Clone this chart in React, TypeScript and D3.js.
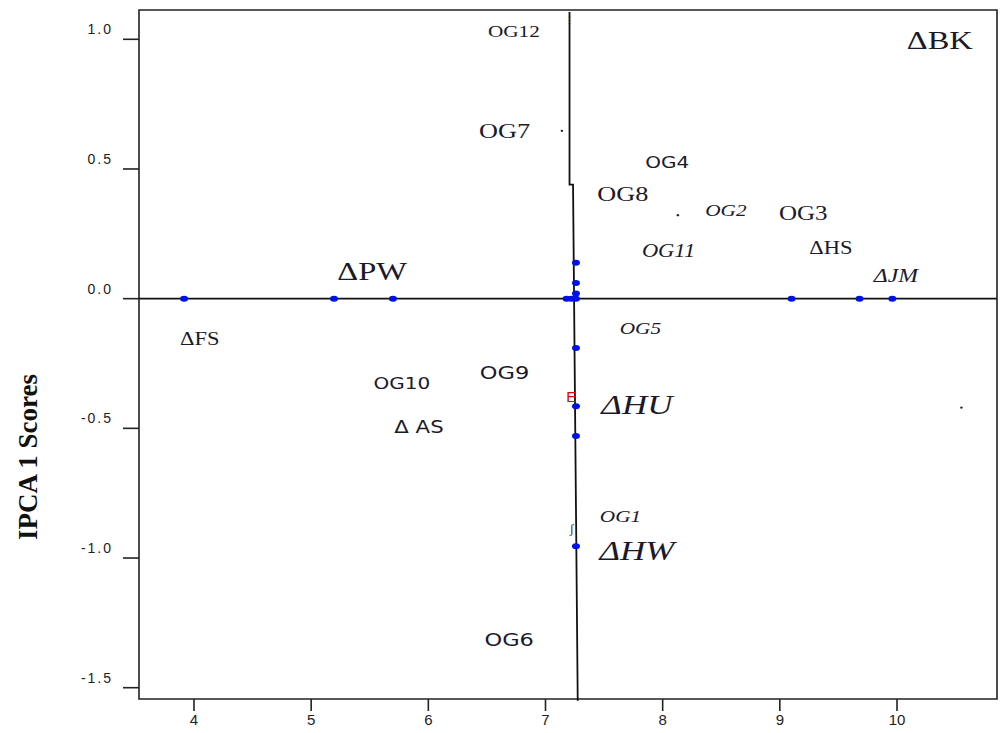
import React from 'react';
import * as d3 from 'd3';

// ---- data ----
const xTicks = [4, 5, 6, 7, 8, 9, 10];
const yTicks = [1.0, 0.5, 0.0, -0.5, -1.0, -1.5];

// environment points lying on the horizontal axis (IPCA 1 = 0)
const pointsOnHorizontal = [3.915, 5.195, 5.698, 7.18, 7.22, 9.1, 9.68, 9.96];
// genotype points lying along the vertical line (mean = 7.26)
const verticalX = 7.26;
const pointsOnVertical = [0.138, 0.06, 0.02, 0.0, -0.19, -0.415, -0.53, -0.955];

// the (slightly broken) vertical reference line
const verticalLine: [number, number][] = [
  [7.205, 1.105],
  [7.205, 0.44],
  [7.235, 0.44],
  [7.275, -1.55],
];

type Lab = { t: string; x: number; y: number; size: number; font: 'serif' | 'sans'; italic?: boolean };
const labels: Lab[] = [
  { t: 'OG12', x: 6.73, y: 1.03, size: 17, font: 'serif' },
  { t: 'OG7', x: 6.65, y: 0.647, size: 21, font: 'serif' },
  { t: 'OG4', x: 8.04, y: 0.524, size: 16, font: 'sans' },
  { t: 'OG8', x: 7.66, y: 0.404, size: 21, font: 'serif' },
  { t: 'OG2', x: 8.54, y: 0.342, size: 17, font: 'serif', italic: true },
  { t: 'OG3', x: 9.2, y: 0.327, size: 20, font: 'serif' },
  { t: 'OG11', x: 8.05, y: 0.184, size: 18, font: 'serif', italic: true },
  { t: '\u0394HS', x: 9.435, y: 0.196, size: 18, font: 'serif' },
  { t: '\u0394JM', x: 9.99, y: 0.088, size: 19, font: 'serif', italic: true },
  { t: '\u0394PW', x: 5.52, y: 0.107, size: 26, font: 'serif' },
  { t: '\u0394BK', x: 10.365, y: 0.995, size: 26, font: 'serif' },
  { t: '\u0394FS', x: 4.05, y: -0.156, size: 18, font: 'serif' },
  { t: 'OG5', x: 7.81, y: -0.113, size: 17, font: 'serif', italic: true },
  { t: 'OG10', x: 5.775, y: -0.325, size: 16, font: 'sans' },
  { t: 'OG9', x: 6.65, y: -0.287, size: 18, font: 'sans' },
  { t: '\u0394HU', x: 7.78, y: -0.41, size: 28, font: 'serif', italic: true },
  { t: '\u0394 AS', x: 5.92, y: -0.495, size: 17, font: 'sans' },
  { t: 'OG1', x: 7.64, y: -0.839, size: 17, font: 'serif', italic: true },
  { t: '\u0394HW', x: 7.78, y: -0.97, size: 28, font: 'serif', italic: true },
  { t: 'OG6', x: 6.69, y: -1.314, size: 18, font: 'sans' },
];

// tiny stray marks
const specks: [number, number][] = [
  [7.14, 0.647],
  [8.13, 0.322],
  [10.55, -0.42],
];

const W = 1000;
const H = 733;
const frame = { left: 139, top: 10, right: 997, bottom: 699 };

export default function App() {
  const x = d3.scaleLinear().domain([4, 10]).range([194, 897]);
  const y = d3.scaleLinear().domain([-1.5, 1.0]).range([687.7, 39.3]);
  const line = d3
    .line<[number, number]>()
    .x((d) => x(d[0]))
    .y((d) => y(d[1]));

  const serif = "'Liberation Serif', 'Times New Roman', serif";
  const sans = "'DejaVu Sans', Verdana, sans-serif";
  const arial = "'Liberation Sans', Arial, sans-serif";
  const stretch = 1.25;

  return (
    <svg
      width={W}
      height={H}
      style={{ position: 'absolute', left: 0, top: 0, background: '#fff' }}
    >
      <rect x={0} y={0} width={W} height={H} fill="#fff" />
      {/* frame */}
      <path
        d={`M${frame.left},${frame.top}H${frame.right}V${frame.bottom}H${frame.left}Z`}
        fill="none"
        stroke="#222"
        strokeWidth={1.6}
      />
      {/* y ticks */}
      {yTicks.map((t) => (
        <g key={'y' + t}>
          <line x1={frame.left - 16} x2={frame.left} y1={y(t)} y2={y(t)} stroke="#222" strokeWidth={1.6} />
          <text
            x={113}
            y={y(t) - 5}
            textAnchor="end"
            fontFamily={arial}
            fontSize={14}
            letterSpacing={2}
            fill="#222"
          >
            {t.toFixed(1)}
          </text>
        </g>
      ))}
      {/* x ticks */}
      {xTicks.map((t) => (
        <g key={'x' + t}>
          <line x1={x(t)} x2={x(t)} y1={frame.bottom} y2={frame.bottom + 12} stroke="#222" strokeWidth={1.6} />
          <text x={x(t)} y={frame.bottom + 26} textAnchor="middle" fontFamily={arial} fontSize={15} fill="#222">
            {t}
          </text>
        </g>
      ))}
      {/* reference lines */}
      <line x1={frame.left} x2={frame.right} y1={y(0)} y2={y(0)} stroke="#111" strokeWidth={1.6} />
      <path d={line(verticalLine) || ''} fill="none" stroke="#111" strokeWidth={1.8} />

      {/* points */}
      {pointsOnHorizontal.map((v, i) => (
        <ellipse key={'h' + i} cx={x(v)} cy={y(0)} rx={4} ry={3} fill="#0010e8" />
      ))}
      {pointsOnVertical.map((v, i) => (
        <ellipse key={'v' + i} cx={x(verticalX)} cy={y(v)} rx={4} ry={3} fill="#0010e8" />
      ))}
      <text
        x={x(7.22)}
        y={y(-0.376)}
        textAnchor="middle"
        dominantBaseline="central"
        fontFamily={arial}
        fontSize={15}
        fill="#e00"
      >
        E
      </text>
      {specks.map((s, i) => (
        <circle key={'s' + i} cx={x(s[0])} cy={y(s[1])} r={1.2} fill="#222" />
      ))}
      <text x={x(7.205)} y={y(1.06)} textAnchor="middle" fontFamily={serif} fontSize={11} fill="#222">
        ⁝
      </text>
      <text x={x(7.225)} y={y(-0.905)} textAnchor="middle" fontFamily={serif} fontSize={12} fill="#222">
        ʃ
      </text>

      {/* labels */}
      {labels.map((l) => (
        <text
          key={l.t}
          transform={`translate(${x(l.x)},${y(l.y)}) scale(${stretch},1)`}
          textAnchor="middle"
          dominantBaseline="central"
          fontFamily={l.font === 'serif' ? serif : sans}
          fontStyle={l.italic ? 'italic' : 'normal'}
          fontSize={l.size}
          fill="#1a1a2a"
        >
          {l.t}
        </text>
      ))}

      {/* y axis title */}
      <text
        transform={`translate(37,${457}) rotate(-90)`}
        textAnchor="middle"
        fontFamily={serif}
        fontWeight="bold"
        fontSize={27}
        fill="#111"
      >
        IPCA 1 Scores
      </text>
    </svg>
  );
}
